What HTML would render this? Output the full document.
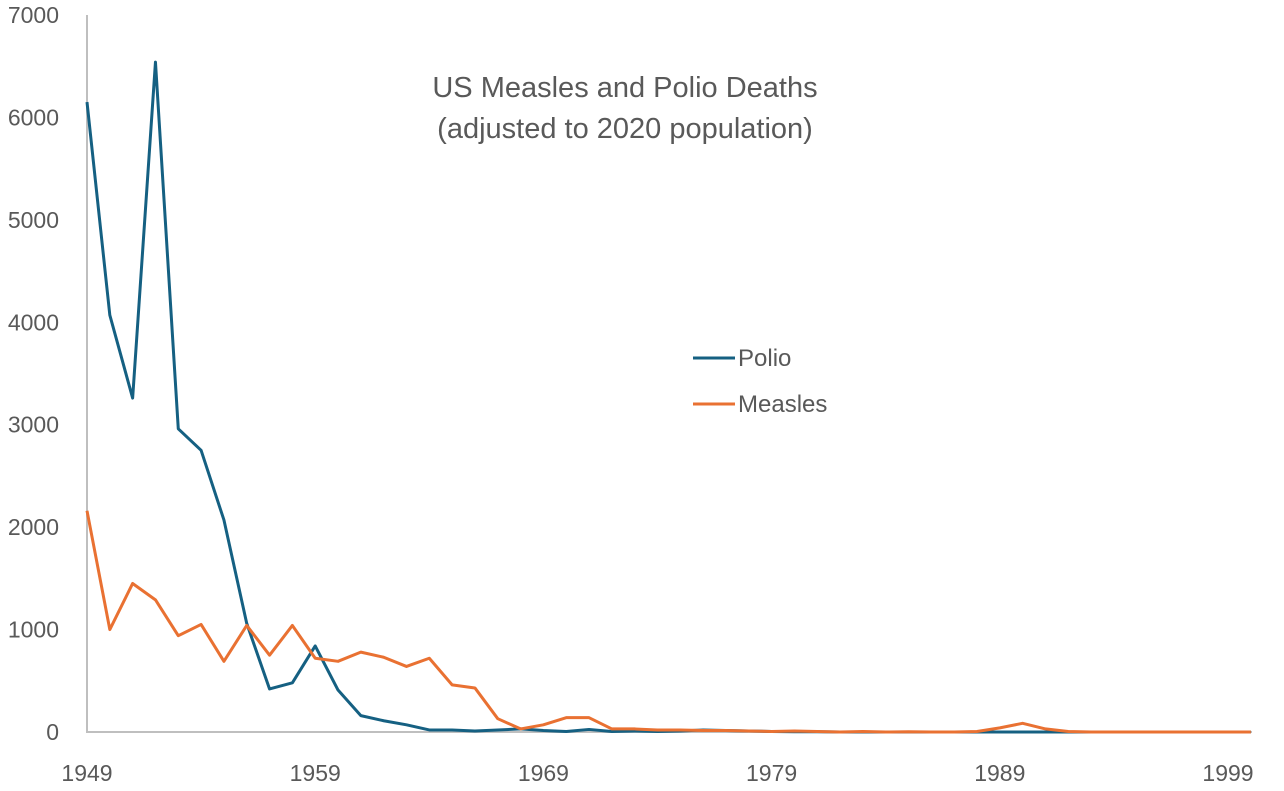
<!DOCTYPE html>
<html><head><meta charset="utf-8"><style>
body{margin:0;background:#fff;font-family:"Liberation Sans",sans-serif;}
svg text{font-family:"Liberation Sans",sans-serif;fill:#595959;}
</style></head><body>
<svg width="1284" height="786" id="c">
<text x="625" y="97" font-size="29" text-anchor="middle">US Measles and Polio Deaths</text>
<text x="625" y="138" font-size="29" text-anchor="middle">(adjusted to 2020 population)</text>
<g id="axes"></g><g id="series"></g>
<g>
<line x1="693" y1="358" x2="735" y2="358" stroke="#156082" stroke-width="3"/>
<text x="738" y="366" font-size="24">Polio</text>
<line x1="693" y1="404" x2="735" y2="404" stroke="#E97132" stroke-width="3"/>
<text x="738" y="412" font-size="24">Measles</text>
</g>
</svg>
<script>
const years=[];for(let y=1949;y<=2000;y++)years.push(y);
const polio=[6150,4070,3260,6540,2960,2750,2070,1060,420,480,840,410,160,110,70,20,20,10,20,30,15,5,25,5,10,5,10,20,15,10,5,3,2,0,0,0,0,0,0,0,0,0,0,0,0,0,0,0,0,0,0,0];
const measles=[2160,1000,1450,1290,940,1050,690,1040,750,1040,720,690,780,730,640,720,460,430,130,30,70,140,140,30,30,20,20,15,15,10,5,10,5,0,5,0,3,0,0,5,40,85,30,5,0,0,0,0,0,0,0,0];
const yTicks=[0,1000,2000,3000,4000,5000,6000,7000];
const xTicks=[1949,1959,1969,1979,1989,1999];
const NS='http://www.w3.org/2000/svg';
const X=v=>87+(v-1949)*22.82, Y=v=>732-v*0.10243;
const ax=document.getElementById('axes'), se=document.getElementById('series');
function mk(tag,at,p){const e=document.createElementNS(NS,tag);for(const k in at)e.setAttribute(k,at[k]);p.appendChild(e);return e;}
let l=mk('line',{x1:87,y1:15,x2:87,y2:733,stroke:'#bfbfbf','stroke-width':2},ax);


l=mk('line',{x1:86,y1:732,x2:1252,y2:732,stroke:'#bfbfbf','stroke-width':2},ax);


yTicks.forEach(v=>{const t=mk('text',{x:59,y:Y(v)+8,'font-size':23,'text-anchor':'end'},ax);t.textContent=v;

});
xTicks.forEach(v=>{const t=mk('text',{x:X(v),y:781,'font-size':23,'text-anchor':'middle'},ax);t.textContent=v;

});
function line(d,c,n){const p=mk('polyline',{points:d.map((v,i)=>X(years[i])+','+Y(v)).join(' '),fill:'none',stroke:c,'stroke-width':3,'stroke-linejoin':'round'},se);

}
line(polio,'#156082','polio-line');
line(measles,'#E97132','measles-line');
</script>
</body></html>
